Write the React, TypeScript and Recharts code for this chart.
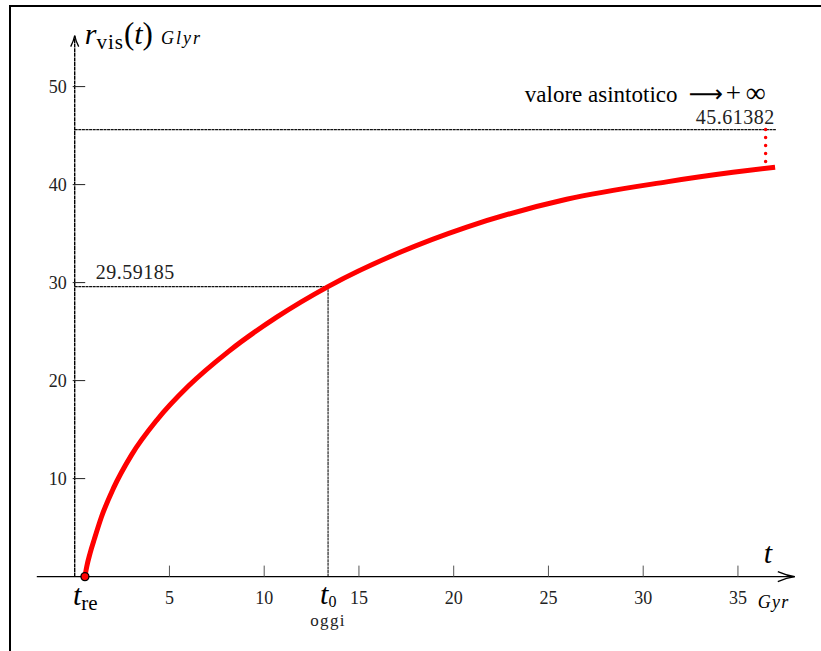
import React from 'react';
import { LineChart, Line, XAxis, YAxis, ReferenceLine, ReferenceDot } from 'recharts';

// curve r_vis(t) (t in Gyr, r in Glyr)
const tValues = [0.54, 0.64, 0.81, 1.04, 1.42, 2.04, 3.01, 4.33, 6.0, 8.11, 10.66, 13.37, 17.17, 20.69, 25.96, 31.24, 34.74, 36.96];
const rValues = [0, 1.05, 2.38, 3.85, 6.13, 9.0, 12.45, 15.96, 19.44, 22.96, 26.47, 29.59185, 33.09, 35.66, 38.5, 40.28, 41.25, 41.77];

const xTicks = [5, 10, 15, 20, 25, 30, 35];
const yTicks = [10, 20, 30, 40, 50];

const tRe = 0.54;
const t0 = 13.37;
const r0 = 29.59185;
const rAsym = 45.61382;
const tAsymEnd = 37.0;
const tDrop = 36.46;
const rDropEnd = 41.8;

const xDomain = [-2, 38];
const yDomain = [0, 55.2];

const data = tValues.map((t, i) => ({ t, r: rValues[i] }));

const SERIF = '"Liberation Serif", "Times New Roman", serif';
const serif = { fontFamily: SERIF };

export default function App() {
  return (
    <div style={{ position: 'absolute', left: 0, top: 0, width: 821, height: 651, overflow: 'hidden', background: '#fff' }}>
      <div
        style={{
          position: 'absolute',
          left: 9,
          top: 5,
          width: 900,
          height: 700,
          borderLeft: '2px solid #000',
          borderTop: '2px solid #000',
        }}
      />
      <div style={{ position: 'absolute', left: 0, top: 0 }}>
        <LineChart
          width={821}
          height={651}
          data={data}
          margin={{ top: 35.64, right: 26.2, bottom: 74.4, left: 36.8 }}
          style={{ fontFamily: SERIF }}
        >
          <XAxis type="number" dataKey="t" domain={xDomain} hide allowDataOverflow />
          <YAxis type="number" domain={yDomain} hide allowDataOverflow />

          {/* guide lines */}
          <ReferenceLine
            segment={[{ x: 0, y: rAsym }, { x: tAsymEnd, y: rAsym }]}
            stroke="#111"
            strokeWidth={1.1}
            strokeDasharray="3 0.6"
            ifOverflow="visible"
          />
          <ReferenceLine
            segment={[{ x: 0, y: r0 }, { x: t0, y: r0 }]}
            stroke="#111"
            strokeWidth={1.1}
            strokeDasharray="3 0.6"
            ifOverflow="visible"
          />
          <ReferenceLine
            segment={[{ x: t0, y: 0 }, { x: t0, y: r0 }]}
            stroke="#111"
            strokeWidth={1.1}
            strokeDasharray="3 0.6"
            ifOverflow="visible"
          />

          {/* axes */}
          <ReferenceLine
            segment={[{ x: xDomain[0], y: 0 }, { x: xDomain[1], y: 0 }]}
            stroke="#000"
            strokeWidth={1.4}
            ifOverflow="visible"
          />
          <ReferenceLine
            segment={[{ x: 0, y: 0 }, { x: 0, y: yDomain[1] }]}
            stroke="#000"
            strokeWidth={1.4}
            strokeDasharray="4 0.6"
            ifOverflow="visible"
          />
          <ReferenceDot
            x={xDomain[1]}
            y={0}
            ifOverflow="visible"
            shape={(p: any) => (
              <g>
                <path
                  d={`M${p.cx - 17},${p.cy - 5} Q${p.cx - 8},${p.cy - 1} ${p.cx},${p.cy} Q${p.cx - 8},${p.cy + 1} ${p.cx - 17},${p.cy + 5}`}
                  fill="none"
                  stroke="#000"
                  strokeWidth={1.3}
                />
                <text x={p.cx - 31} y={p.cy - 14} style={serif} fontStyle="italic" fontSize={30} fill="#000">
                  t
                </text>
                <text x={p.cx - 37} y={p.cy + 31} style={serif} fontStyle="italic" fontSize={18} letterSpacing={1.2} fill="#000">
                  Gyr
                </text>
              </g>
            )}
          />
          <ReferenceDot
            x={0}
            y={yDomain[1]}
            ifOverflow="visible"
            shape={(p: any) => (
              <g>
                <path
                  d={`M${p.cx - 4},${p.cy + 11} Q${p.cx - 1},${p.cy + 5} ${p.cx},${p.cy} Q${p.cx + 1},${p.cy + 5} ${p.cx + 4},${p.cy + 11}`}
                  fill="none"
                  stroke="#000"
                  strokeWidth={1.3}
                />
                <text x={p.cx + 10} y={p.cy + 8} style={serif} fill="#000">
                  <tspan fontStyle="italic" fontSize={30}>r</tspan>
                  <tspan fontSize={21} dy={5} letterSpacing={1}>vis</tspan>
                  <tspan fontSize={31} dy={-5}>(</tspan>
                  <tspan fontStyle="italic" fontSize={30}>t</tspan>
                  <tspan fontSize={31}>)</tspan>
                  <tspan fontStyle="italic" fontSize={18} dx={8} letterSpacing={2}>Glyr</tspan>
                </text>
              </g>
            )}
          />

          {/* x ticks */}
          {xTicks.map((v) => (
            <ReferenceDot
              key={'xt' + v}
              x={v}
              y={0}
              ifOverflow="visible"
              shape={(p: any) => (
                <g>
                  <line x1={p.cx} y1={p.cy} x2={p.cx} y2={p.cy - 11} stroke="#555" strokeWidth={1} />
                  <text x={p.cx} y={p.cy + 27} textAnchor="middle" style={serif} fontSize={18} fill="#222">
                    {v}
                  </text>
                </g>
              )}
            />
          ))}

          {/* y ticks */}
          {yTicks.map((v) => (
            <ReferenceDot
              key={'yt' + v}
              x={0}
              y={v}
              ifOverflow="visible"
              shape={(p: any) => (
                <g>
                  <line x1={p.cx - 2} y1={p.cy} x2={p.cx + 10.5} y2={p.cy} stroke="#222" strokeWidth={1} />
                  <text x={p.cx - 8} y={p.cy + 6} textAnchor="end" style={serif} fontSize={18} fill="#222">
                    {v}
                  </text>
                </g>
              )}
            />
          ))}

          {/* t_re and t_0 labels */}
          <ReferenceDot
            x={tRe}
            y={0}
            ifOverflow="visible"
            shape={(p: any) => (
              <text x={p.cx - 12} y={p.cy + 28} style={serif} fill="#000">
                <tspan fontStyle="italic" fontSize={30}>t</tspan>
                <tspan fontSize={21} dy={5}>re</tspan>
              </text>
            )}
          />
          <ReferenceDot
            x={t0}
            y={0}
            ifOverflow="visible"
            shape={(p: any) => (
              <g>
                <text x={p.cx - 8} y={p.cy + 27} style={serif} fill="#000">
                  <tspan fontStyle="italic" fontSize={30}>t</tspan>
                  <tspan fontSize={16} dy={3}>0</tspan>
                </text>
                <text x={p.cx} y={p.cy + 49} textAnchor="middle" style={serif} fontSize={17} letterSpacing={1.4} fill="#222">
                  oggi
                </text>
              </g>
            )}
          />

          {/* value labels */}
          <ReferenceDot
            x={0}
            y={r0}
            ifOverflow="visible"
            shape={(p: any) => (
              <text x={p.cx + 21} y={p.cy - 8} style={serif} fontSize={20} letterSpacing={0.5} fill="#222">
                {r0.toFixed(5)}
              </text>
            )}
          />
          <ReferenceDot
            x={tAsymEnd}
            y={rAsym}
            ifOverflow="visible"
            shape={(p: any) => (
              <g>
                <text x={p.cx - 80} y={p.cy - 6} style={serif} fontSize={20} letterSpacing={0.5} fill="#222">
                  {rAsym.toFixed(5)}
                </text>
                <text x={p.cx - 251} y={p.cy - 28} style={serif} fontSize={23} fill="#000">
                  <tspan>valore asintotico</tspan>
                  <tspan x={p.cx - 87} fontSize={24} style={{ fontFamily: '"DejaVu Sans", sans-serif' }}>⟶</tspan>
                  <tspan x={p.cx - 50} fontSize={27}>+</tspan>
                  <tspan x={p.cx - 30} fontSize={28}>∞</tspan>
                </text>
              </g>
            )}
          />

          {/* curve */}
          <Line
            type="monotone"
            dataKey="r"
            stroke="#ff0000"
            strokeWidth={5}
            dot={false}
            activeDot={false}
            isAnimationActive={false}
          />

          <ReferenceLine
            segment={[{ x: tDrop, y: rAsym }, { x: tDrop, y: rDropEnd }]}
            stroke="#ff0000"
            strokeWidth={3.5}
            strokeDasharray="0 8"
            strokeLinecap="round"
            ifOverflow="visible"
          />
          <ReferenceDot x={tRe} y={0} r={4} fill="#ff0000" stroke="#000" strokeWidth={1.3} ifOverflow="visible" />
        </LineChart>
      </div>
    </div>
  );
}
